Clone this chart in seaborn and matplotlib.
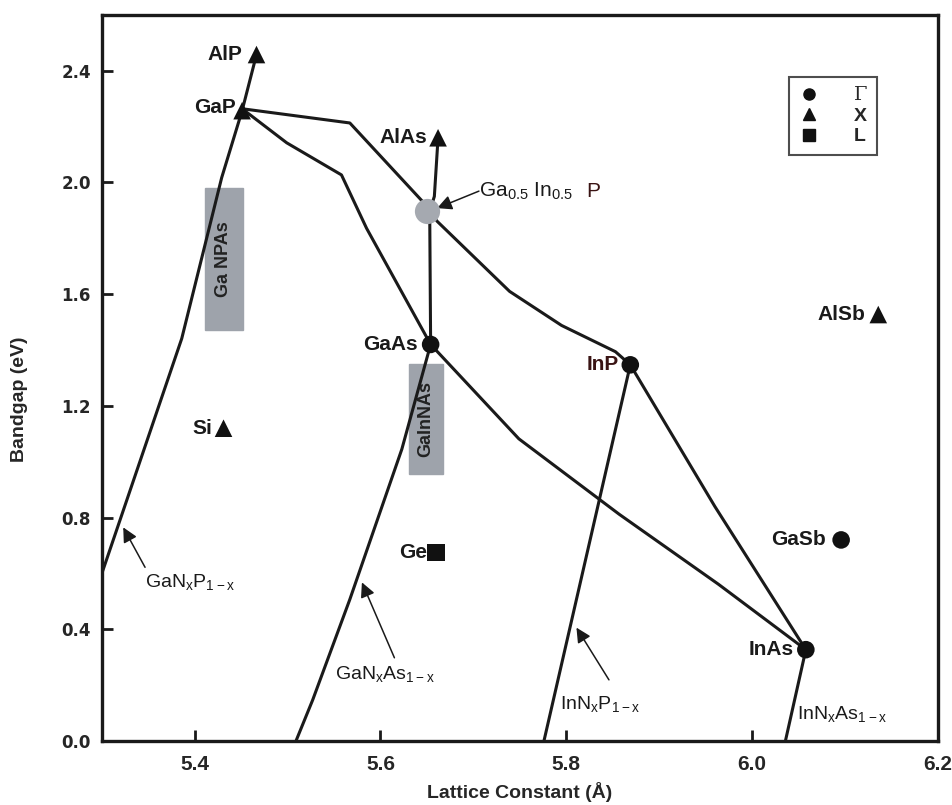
import pandas as pd
import matplotlib.pyplot as plt
import seaborn as sns
from matplotlib.patches import Rectangle
from matplotlib.lines import Line2D

# Binary compounds: lattice constant (A), bandgap (eV), gap type
compounds = ['AlP', 'GaP', 'AlAs', 'GaAs', 'InP', 'AlSb', 'Si', 'Ge', 'GaSb', 'InAs']
lattice = [5.4665, 5.451, 5.662, 5.654, 5.869, 6.136, 5.431, 5.660, 6.096, 6.058]
bandgap = [2.458, 2.257, 2.160, 1.420, 1.347, 1.527, 1.120, 0.675, 0.720, 0.327]
gap_type = ['X', 'X', 'X', 'G', 'G', 'X', 'X', 'L', 'G', 'G']

# Ternary / quaternary curves
gap_x = [5.451, 5.4665]                      # GaP - AlP
gap_y = [2.257, 2.458]
alas_x = [5.662, 5.658, 5.653, 5.654]        # AlAs - GaInP - GaAs
alas_y = [2.160, 1.950, 1.897, 1.420]
upper_x = [5.451, 5.567, 5.645, 5.661, 5.739, 5.795, 5.853, 5.869]   # GaP - GaInP - InP
upper_y = [2.264, 2.213, 1.933, 1.861, 1.610, 1.488, 1.394, 1.347]
lower_x = [5.451, 5.499, 5.558, 5.585, 5.654, 5.749, 5.857, 5.964, 6.058]  # GaP - GaAs - InAs
lower_y = [2.264, 2.142, 2.027, 1.836, 1.420, 1.082, 0.812, 0.561, 0.327]
inpas_x = [5.869, 5.960, 6.058]              # InP - InAs
inpas_y = [1.347, 0.840, 0.327]
ganp_x = [5.451, 5.429, 5.386, 5.300]        # GaNxP1-x
ganp_y = [2.257, 2.017, 1.441, 0.600]
ganas_x = [5.654, 5.623, 5.567, 5.527, 5.509]  # GaNxAs1-x
ganas_y = [1.420, 1.045, 0.507, 0.147, 0.000]
innp_x = [5.869, 5.776]                      # InNxP1-x
innp_y = [1.347, 0.000]
innas_x = [6.058, 6.036]                     # InNxAs1-x
innas_y = [0.327, 0.000]

gainp = (5.650, 1.897)

curves = {'GaP-AlP': (gap_x, gap_y), 'AlAs-GaAs': (alas_x, alas_y),
          'upper': (upper_x, upper_y), 'lower': (lower_x, lower_y),
          'InP-InAs': (inpas_x, inpas_y), 'GaNP': (ganp_x, ganp_y),
          'GaNAs': (ganas_x, ganas_y), 'InNP': (innp_x, innp_y),
          'InNAs': (innas_x, innas_y)}
lines = pd.concat([pd.DataFrame({'a': xs, 'eg': ys, 'curve': name})
                   for name, (xs, ys) in curves.items()], ignore_index=True)
points = pd.DataFrame({'name': compounds, 'a': lattice, 'eg': bandgap, 'type': gap_type})

sns.set_style('ticks')
plt.rcParams['font.family'] = ['Liberation Sans', 'DejaVu Sans']

fig = plt.figure(figsize=(9.52, 8.05), dpi=100)
ax = fig.add_axes([0.107, 0.0795, 0.878, 0.902])

# grey composition boxes
ax.add_patch(Rectangle((5.4108, 1.47), 0.0408, 0.51, color='#9ea3ab', zorder=1))
ax.text(5.4312, 1.725, 'Ga NPAs', rotation=90, ha='center', va='center',
        fontsize=13, fontweight='bold', color='#222222', zorder=2)
ax.add_patch(Rectangle((5.6307, 0.956), 0.0365, 0.395, color='#9ea3ab', zorder=1))
ax.text(5.649, 1.153, 'GaInNAs', rotation=90, ha='center', va='center',
        fontsize=13, fontweight='bold', color='#222222', zorder=2)

sns.lineplot(data=lines, x='a', y='eg', units='curve', estimator=None, sort=False,
             color='#1a1a1a', lw=2.2, ax=ax, zorder=3)

ax.scatter([gainp[0]], [gainp[1]], s=330, color='#a5a9b0', zorder=4, linewidths=0)

markers = {'G': 'o', 'X': '^', 'L': 's'}
sns.scatterplot(data=points, x='a', y='eg', style='type', markers=markers,
                s=160, color='#111111', edgecolor='none', legend=False, ax=ax, zorder=5)

# compound labels (right-aligned to the marker)
label_off = {'AlP': 0.015, 'GaP': 0.007, 'AlAs': 0.012, 'GaAs': 0.014, 'InP': 0.012,
             'AlSb': 0.014, 'Si': 0.012, 'Ge': 0.01, 'GaSb': 0.016, 'InAs': 0.013}
for name, a, eg in zip(compounds, lattice, bandgap):
    dy = 0.012 if name == 'GaP' else 0
    col = '#3a1414' if name == 'InP' else '#1a1a1a'
    ax.text(a - label_off[name], eg + dy, name, ha='right', va='center',
            fontsize=15, fontweight='bold', color=col, zorder=6)

arrow = dict(arrowstyle='-|>', color='#1a1a1a', lw=1.1, mutation_scale=22,
             shrinkA=0, shrinkB=0)
ax.annotate('', xy=(5.323, 0.765), xytext=(5.3465, 0.622), arrowprops=arrow)
ax.text(5.3465, 0.568, r'GaN$_{\mathregular{x}}$P$_{\mathregular{1-x}}$',
        fontsize=14, ha='left', va='center', color='#1a1a1a')
ax.annotate('', xy=(5.580, 0.568), xytext=(5.615, 0.298), arrowprops=arrow)
ax.text(5.551, 0.237, r'GaN$_{\mathregular{x}}$As$_{\mathregular{1-x}}$',
        fontsize=14, ha='left', va='center', color='#1a1a1a')
ax.annotate('', xy=(5.811, 0.406), xytext=(5.846, 0.219), arrowprops=arrow)
ax.text(5.793, 0.129, r'InN$_{\mathregular{x}}$P$_{\mathregular{1-x}}$',
        fontsize=14, ha='left', va='center', color='#1a1a1a')
ax.text(6.048, 0.093, r'InN$_{\mathregular{x}}$As$_{\mathregular{1-x}}$',
        fontsize=14, ha='left', va='center', color='#1a1a1a')
ax.annotate('', xy=(5.661, 1.908), xytext=(5.706, 1.969), arrowprops=arrow)
ax.text(5.706, 1.969, r'Ga$_{\mathregular{0.5}}$ In$_{\mathregular{0.5}}$',
        fontsize=15, ha='left', va='center', color='#1a1a1a')
ax.text(5.822, 1.969, 'P', fontsize=15, ha='left', va='center', color='#3a1414')

# legend
handles = [Line2D([], [], marker=m, ls='none', color='#111111', markersize=8)
           for m in ['o', '^', 's']]
leg = ax.legend(handles, ['Γ', 'X', 'L'], loc='upper right',
                bbox_to_anchor=(0.927, 0.915), borderaxespad=0, frameon=True,
                fancybox=False, edgecolor='#222222', handlelength=1.0,
                handletextpad=1.8, labelspacing=0.15, borderpad=0.5,
                prop={'size': 14, 'weight': 'bold'})
leg.get_frame().set_linewidth(1.5)
leg.get_texts()[0].set_family('DejaVu Serif')
leg.get_texts()[0].set_fontweight('normal')

ax.set_xlim(5.3, 6.2)
ax.set_ylim(0, 2.6)
ax.set_xticks([5.4, 5.6, 5.8, 6.0, 6.2])
ax.set_yticks([0.0, 0.4, 0.8, 1.2, 1.6, 2.0, 2.4])
ax.tick_params(direction='in', length=8, width=2, color='#1a1a1a')
for lab in ax.get_xticklabels():
    lab.set_fontweight('bold')
    lab.set_fontsize(15)
for lab in ax.get_yticklabels():
    lab.set_family('DejaVu Sans')
    lab.set_fontweight('bold')
    lab.set_fontsize(12)
for sp in ax.spines.values():
    sp.set_linewidth(2.4)
    sp.set_color('#1a1a1a')
ax.tick_params(axis='x', pad=10)
ax.tick_params(axis='y', pad=8)

ax.set_xlabel('Lattice Constant (Å)', fontsize=14, fontweight='bold')
ax.set_ylabel('Bandgap (eV)', fontsize=14, fontweight='bold')
ax.xaxis.set_label_coords(0.5, -0.056)
ax.yaxis.set_label_coords(-0.088, 0.47)

fig.savefig('out.png', dpi=100)
